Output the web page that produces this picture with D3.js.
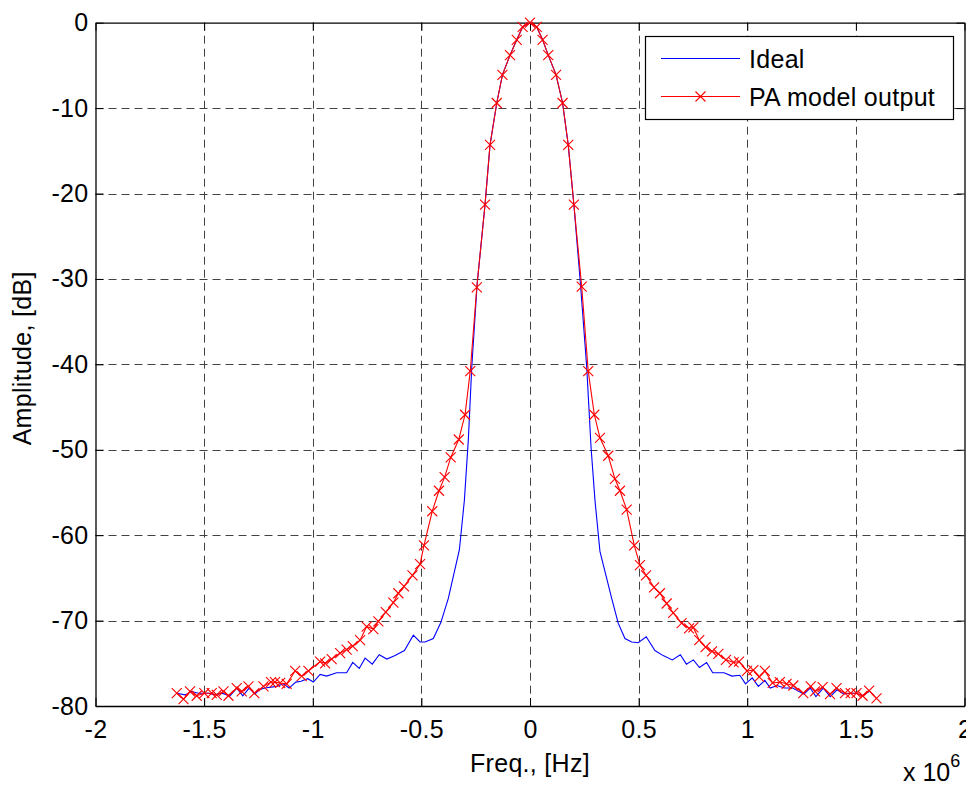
<!DOCTYPE html>
<html>
<head>
<meta charset="utf-8">
<script src="https://cdn.jsdelivr.net/npm/d3@7/dist/d3.min.js"></script>
<style>
  html, body { margin: 0; padding: 0; background: #fff; }
  svg { display: block; }
  text { font-family: "Liberation Sans", Arial, Helvetica, sans-serif; fill: #000; }
</style>
</head>
<body>
<svg id="chart" width="966" height="785"></svg>
<script>
// ---------- data (frequency in units of 1e6 Hz, amplitude in dB) ----------
const idealFreq = [
  -1.626, -1.588, -1.557, -1.526, -1.480, -1.450, -1.419, -1.381, -1.350, -1.322,
  -1.293, -1.266, -1.247, -1.220, -1.166, -1.135, -1.109, -1.078, -1.054, -1.023,
  -0.997, -0.966, -0.936, -0.890, -0.844, -0.816, -0.786, -0.759, -0.726, -0.694,
  -0.659, -0.621, -0.578, -0.537, -0.506, -0.483, -0.445, -0.410, -0.376, -0.325,
  -0.302, -0.284, -0.268, -0.243, -0.207, -0.184, -0.153, -0.127, -0.092, -0.061,
  -0.034, 0.000, 0.031, 0.058, 0.084, 0.120, 0.150, 0.176, 0.202, 0.232,
  0.261, 0.281, 0.299, 0.322, 0.376, 0.406, 0.437, 0.468, 0.498, 0.535,
  0.575, 0.613, 0.655, 0.692, 0.720, 0.752, 0.780, 0.813, 0.841, 0.893,
  0.930, 0.966, 0.992, 1.023, 1.051, 1.081, 1.106, 1.137, 1.171, 1.210,
  1.230, 1.261, 1.290, 1.316, 1.350, 1.382, 1.413, 1.444, 1.473, 1.500,
  1.531, 1.561
];
const idealAmp = [
  -78.5, -78.7, -78.3, -78.5, -78.5, -78.7, -78.5, -78.8, -77.9, -78.8,
  -77.9, -78.6, -78.1, -77.9, -77.7, -77.4, -77.9, -77.2, -77.1, -76.8,
  -77.2, -76.3, -76.5, -76.1, -76.1, -74.9, -75.6, -74.4, -75.1, -74.0,
  -74.5, -74.1, -73.5, -71.7, -72.5, -72.5, -72.1, -70.2, -67.4, -61.7,
  -55.9, -48.9, -40.3, -30.5, -21.3, -14.3, -9.4, -6.1, -3.8, -2.0,
  -0.5, 0.0, -0.5, -2.0, -3.8, -6.1, -9.4, -14.3, -21.3, -30.5,
  -40.3, -49.7, -55.9, -61.9, -67.4, -70.3, -72.1, -72.5, -72.6, -71.9,
  -73.5, -74.1, -74.6, -74.0, -75.1, -74.6, -75.5, -74.9, -76.1, -76.1,
  -76.5, -76.4, -77.4, -76.7, -77.7, -77.0, -77.9, -77.6, -77.9, -77.9,
  -78.2, -78.6, -77.9, -78.9, -77.9, -78.9, -78.1, -78.6, -78.5, -78.5,
  -78.8, -78.3
];
const paFreq = [
  -1.626, -1.595, -1.565, -1.534, -1.499, -1.465, -1.442, -1.411, -1.388, -1.350,
  -1.327, -1.296, -1.269, -1.227, -1.192, -1.174, -1.150, -1.120, -1.081, -1.051,
  -1.020, -0.966, -0.943, -0.913, -0.874, -0.844, -0.816, -0.782, -0.752, -0.721,
  -0.698, -0.664, -0.629, -0.606, -0.580, -0.541, -0.506, -0.488, -0.450, -0.419,
  -0.393, -0.365, -0.328, -0.299, -0.275, -0.245, -0.207, -0.184, -0.153, -0.127,
  -0.092, -0.061, -0.034, 0.000, 0.031, 0.058, 0.084, 0.120, 0.150, 0.176,
  0.202, 0.238, 0.268, 0.296, 0.322, 0.360, 0.391, 0.414, 0.445, 0.480,
  0.506, 0.534, 0.571, 0.598, 0.629, 0.659, 0.698, 0.732, 0.752, 0.779,
  0.808, 0.838, 0.867, 0.902, 0.937, 0.962, 0.999, 1.028, 1.055, 1.081,
  1.117, 1.150, 1.181, 1.212, 1.258, 1.292, 1.312, 1.347, 1.381, 1.411,
  1.450, 1.476, 1.503, 1.531, 1.561, 1.595
];
const paAmp = [
  -78.5, -79.2, -78.3, -78.8, -78.5, -78.5, -78.7, -78.3, -78.8, -77.9,
  -78.3, -77.7, -78.5, -77.7, -77.2, -77.2, -77.3, -77.4, -75.9, -76.5,
  -75.9, -74.8, -75.0, -74.5, -73.8, -73.4, -73.0, -72.3, -70.7, -71.0,
  -70.1, -69.0, -67.9, -66.8, -66.0, -64.7, -63.4, -61.2, -57.2, -54.8,
  -53.2, -50.9, -48.8, -45.9, -40.8, -31.0, -21.3, -14.3, -9.4, -6.1,
  -3.8, -2.0, -0.5, 0.0, -0.5, -2.0, -3.8, -6.1, -9.4, -14.3,
  -21.3, -30.9, -40.8, -45.9, -48.6, -50.7, -53.4, -54.8, -57.0, -61.2,
  -63.5, -64.7, -66.1, -66.8, -68.0, -69.1, -70.3, -70.9, -70.8, -72.3,
  -73.1, -73.6, -73.9, -74.6, -74.9, -74.8, -75.9, -75.8, -76.6, -75.9,
  -77.3, -77.2, -77.4, -77.6, -78.5, -77.7, -78.3, -77.8, -78.6, -77.9,
  -78.5, -78.5, -78.5, -78.8, -78.2, -79.1
];
const xTicks = [-2, -1.5, -1, -0.5, 0, 0.5, 1, 1.5, 2];
const yTicks = [-80, -70, -60, -50, -40, -30, -20, -10, 0];
const seriesNames = ["Ideal", "PA model output"];
const seriesColors = ["#0000ff", "#ff0000"];

// ---------- layout ----------
const svg = d3.select("#chart");
const L = 95.5, R = 964.5, T = 22.7, B = 706;
const x = d3.scaleLinear().domain([-2, 2]).range([L, R]);
const y = d3.scaleLinear().domain([-80, 0]).range([B, T]);
const FS = 25;
const LS = "0.3px";
const fmt = d => String(d);

svg.append("rect").attr("width", 966).attr("height", 785).attr("fill", "#fff");

// grid
const grid = svg.append("g").attr("stroke", "#222").attr("stroke-width", 1)
  .attr("stroke-dasharray", "8,5").attr("opacity", 0.85);
xTicks.slice(1, -1).forEach(t => {
  grid.append("line").attr("x1", Math.round(x(t)) + 0.5).attr("x2", Math.round(x(t)) + 0.5)
    .attr("y1", T).attr("y2", B);
});
yTicks.slice(1, -1).forEach(t => {
  grid.append("line").attr("y1", Math.round(y(t)) + 0.5).attr("y2", Math.round(y(t)) + 0.5)
    .attr("x1", L).attr("x2", R);
});

// axes (MATLAB style: inward ticks on all four sides)
const tickLen = 8;
const axB = d3.axisBottom(x).tickValues(xTicks).tickSizeInner(-tickLen).tickSizeOuter(0)
  .tickPadding(14).tickFormat(fmt);
const axT = d3.axisTop(x).tickValues(xTicks).tickSizeInner(-tickLen).tickSizeOuter(0).tickFormat("");
const axLft = d3.axisLeft(y).tickValues(yTicks).tickSizeInner(-tickLen).tickSizeOuter(0)
  .tickPadding(7).tickFormat(fmt);
const axRgt = d3.axisRight(y).tickValues(yTicks).tickSizeInner(-tickLen).tickSizeOuter(0).tickFormat("");

function styleAxis(g) {
  g.selectAll("path").attr("stroke", "#000").attr("stroke-width", 1.3);
  g.selectAll("line").attr("stroke", "#000").attr("stroke-width", 1);
  g.selectAll("text").attr("font-size", FS).attr("fill", "#000").attr("letter-spacing", LS)
    .attr("font-family", '"Liberation Sans", Arial, sans-serif');
}
svg.append("g").attr("transform", `translate(0,${B})`).call(axB).call(styleAxis);
svg.append("g").attr("transform", `translate(0,${T})`).call(axT).call(styleAxis);
svg.append("g").attr("transform", `translate(${L},0)`).call(axLft).call(styleAxis);
svg.append("g").attr("transform", `translate(${R},0)`).call(axRgt).call(styleAxis);

// data lines
const ideal = idealFreq.map((f, i) => [f, idealAmp[i]]);
const pa = paFreq.map((f, i) => [f, paAmp[i]]);
const line = d3.line().x(d => x(d[0])).y(d => y(d[1]));

svg.append("path").datum(ideal).attr("d", line).attr("fill", "none")
  .attr("stroke", seriesColors[0]).attr("stroke-width", 1.1);
svg.append("path").datum(pa).attr("d", line).attr("fill", "none")
  .attr("stroke", seriesColors[1]).attr("stroke-width", 1.1);

const M = 5;
function xMark(g, cx, cy, col) {
  g.append("path").attr("d", `M${cx - M},${cy - M}L${cx + M},${cy + M}M${cx - M},${cy + M}L${cx + M},${cy - M}`)
    .attr("stroke", col).attr("stroke-width", 1.1).attr("fill", "none");
}
const mk = svg.append("g");
pa.forEach(d => xMark(mk, x(d[0]), y(d[1]), seriesColors[1]));

// legend
const lg = svg.append("g");
lg.append("rect").attr("x", 645.5).attr("y", 36.5).attr("width", 308).attr("height", 83)
  .attr("fill", "#fff").attr("stroke", "#000").attr("stroke-width", 1.2);
const legY = [58.5, 96.5];
seriesNames.forEach((n, i) => {
  lg.append("line").attr("x1", 661).attr("x2", 740).attr("y1", legY[i]).attr("y2", legY[i])
    .attr("stroke", seriesColors[i]).attr("stroke-width", 1.1);
  if (i === 1) xMark(lg, 700.5, legY[i], seriesColors[i]);
  lg.append("text").attr("x", 749).attr("y", legY[i] + 9).attr("font-size", FS)
    .attr("letter-spacing", LS).text(n);
});

// axis labels
svg.append("text").attr("x", x(0)).attr("y", 772).attr("text-anchor", "middle")
  .attr("font-size", FS).attr("letter-spacing", LS).text("Freq., [Hz]");
svg.append("text").attr("transform", `translate(31,${(T + B) / 2 - 6}) rotate(-90)`)
  .attr("text-anchor", "middle").attr("font-size", FS).attr("letter-spacing", LS).text("Amplitude, [dB]");
const ex = svg.append("text").attr("x", 903).attr("y", 781).attr("font-size", FS);
ex.append("tspan").text("x 10");
ex.append("tspan").attr("dy", -14).attr("font-size", 18).text("6");
</script>
</body>
</html>
